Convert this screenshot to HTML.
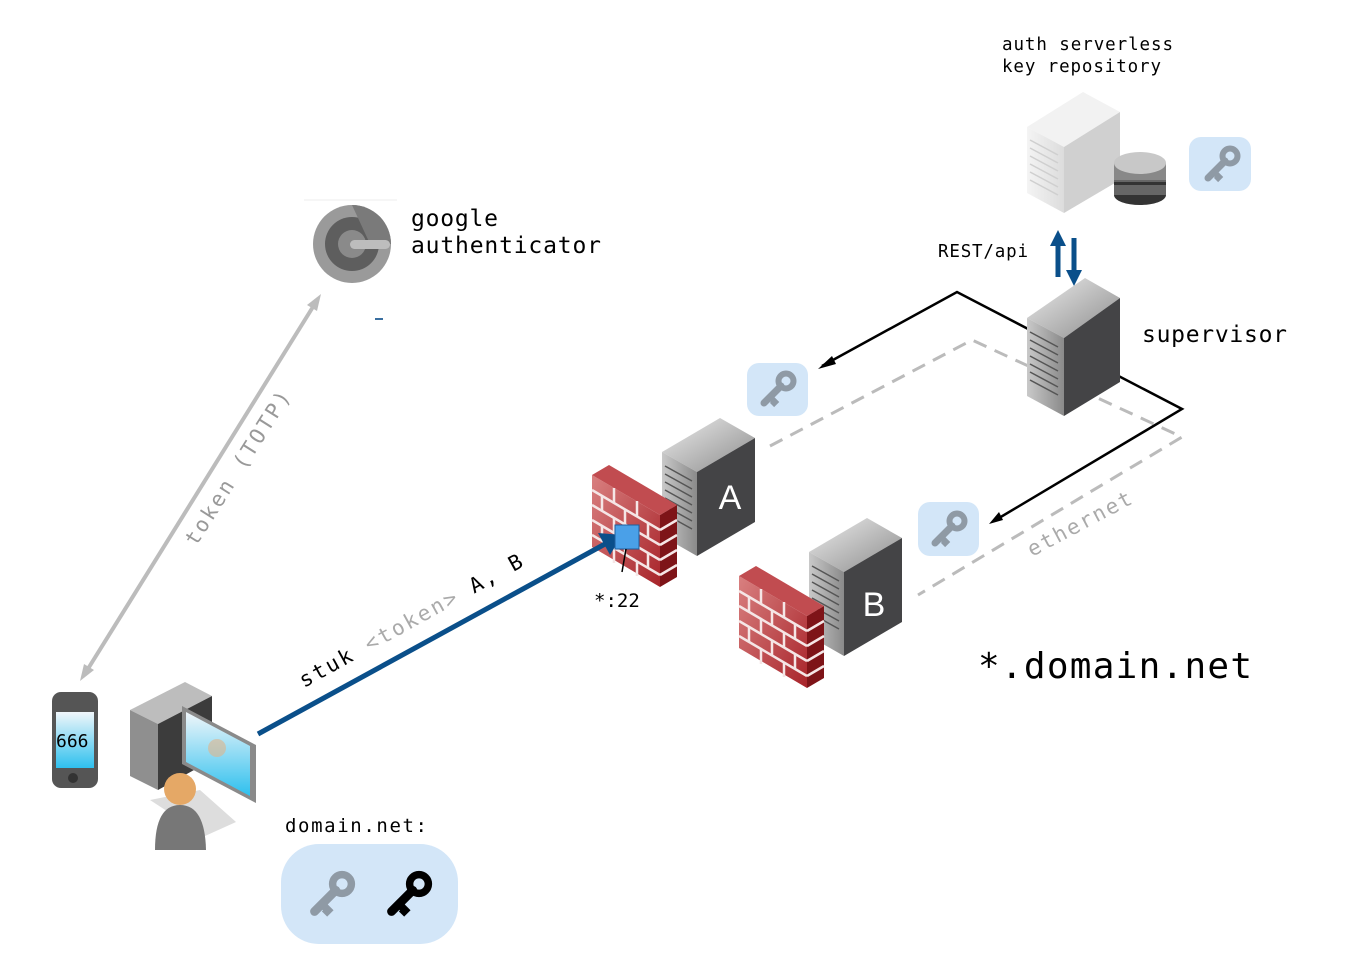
<!DOCTYPE html>
<html><head><meta charset="utf-8"><style>
html,body{margin:0;padding:0;background:#fff;}
svg{display:block;}
text{font-family:"DejaVu Sans Mono","Liberation Mono",monospace;}
</style></head><body>
<svg width="1364" height="958" viewBox="0 0 1364 958" xmlns="http://www.w3.org/2000/svg">
<defs>
<linearGradient id="lf" x1="0" y1="0" x2="1" y2="0"><stop offset="0" stop-color="#c9c9c9"/><stop offset="1" stop-color="#8a8a8a"/></linearGradient>
<linearGradient id="tf" x1="0" y1="0" x2="1" y2="1"><stop offset="0" stop-color="#ececec"/><stop offset="1" stop-color="#8c8c8c"/></linearGradient>
<linearGradient id="lfl" x1="0" y1="0" x2="1" y2="0"><stop offset="0" stop-color="#f4f4f4"/><stop offset="1" stop-color="#dcdcdc"/></linearGradient>
<linearGradient id="brick" x1="0" y1="0" x2="1" y2="1"><stop offset="0" stop-color="#d98080"/><stop offset="1" stop-color="#a8242a"/></linearGradient>
<linearGradient id="scr" x1="0" y1="0" x2="0" y2="1"><stop offset="0" stop-color="#f0f6fa"/><stop offset="1" stop-color="#2ec0ee"/></linearGradient>
<g id="key"><circle cx="8" cy="-8" r="7.5" fill="none" stroke="currentColor" stroke-width="6"/><path d="M3 -3 L-14 14" stroke="currentColor" stroke-width="7" stroke-linecap="round"/><path d="M-8 8 L-3 13 L-6 16" stroke="currentColor" stroke-width="6" fill="none"/></g>
<g id="wall">
 <polygon points="0,0 68,40 68,112 0,72" fill="url(#brick)"/>
 <polygon points="68,40 85,30 85,102 68,112" fill="#7e1418"/>
 <polygon points="0,0 17,-10 85,30 68,40" fill="#c14c50"/>
 <g stroke="#f5e6e6" stroke-width="2.5" fill="none">
  <path d="M0 15 L68 55 M0 30 L68 70 M0 45 L68 85 M0 60 L68 100"/>
  <path d="M68 55 L85 45 M68 70 L85 60 M68 85 L85 75 M68 100 L85 90"/>
  <path d="M22 13 L22 28 M45 26 L45 41 M10 21 L10 36 M33 34 L33 49 M56 48 L56 63 M22 43 L22 58 M45 56 L45 71 M10 51 L10 66 M33 64 L33 79 M56 78 L56 93 M22 73 L22 88 M45 86 L45 101"/>
 </g>
</g>
</defs>

<g fill="none" stroke="#bbb" stroke-width="3" stroke-dasharray="14,9">
 <path d="M770 446 L972 340 L1182 437 L918 595"/>
</g>
<path d="M822 366 L957 292 L1182 409 L994 521" fill="none" stroke="#000" stroke-width="2.5"/>
<polygon points="818,369 832,356 836,364" fill="#000"/>
<polygon points="989,524 999,512 1003,520" fill="#000"/>

<line x1="86" y1="672" x2="316" y2="302" stroke="#bcbcbc" stroke-width="4"/>
<polygon points="80,681 84,664 94,670" fill="#bcbcbc"/>
<polygon points="321,294 317,311 307,305" fill="#bcbcbc"/>

<line x1="1058" y1="244" x2="1058" y2="277" stroke="#0a4f8a" stroke-width="5"/>
<polygon points="1050,246 1066,246 1058,230" fill="#0a4f8a"/>
<line x1="1074" y1="238" x2="1074" y2="272" stroke="#0a4f8a" stroke-width="5"/>
<polygon points="1066,270 1082,270 1074,286" fill="#0a4f8a"/>

<g>
 <polygon points="1027,127 1083,92 1120,112 1064,147" fill="#f2f2f2"/>
 <polygon points="1027,127 1064,147 1064,213 1027,193" fill="url(#lfl)"/>
 <polygon points="1064,147 1120,112 1120,180 1064,213" fill="#d0d0d0"/>
 <g stroke="#cfcfcf" stroke-width="1.5"><path d="M1030 140 L1058 155 M1030 148 L1058 163 M1030 156 L1058 171 M1030 164 L1058 179 M1030 172 L1058 187 M1030 180 L1058 195"/></g>
 <ellipse cx="1140" cy="195" rx="26" ry="10" fill="#333"/>
 <rect x="1114" y="168" width="52" height="27" fill="#666"/>
 <rect x="1114" y="182" width="52" height="3" fill="#333"/>
 <rect x="1114" y="163" width="52" height="17" fill="#888"/>
 <ellipse cx="1140" cy="163" rx="26" ry="11" fill="#c8c8c8"/>
</g>
<rect x="1189" y="137" width="62" height="54" rx="12" fill="#d3e6f8"/>
<use href="#key" x="1222" y="164" color="#8f9aa5"/>

<g>
 <polygon points="1027,318 1085,278 1120,298 1064,338" fill="url(#tf)"/>
 <polygon points="1027,318 1064,338 1064,416 1027,396" fill="url(#lf)"/>
 <polygon points="1064,338 1120,298 1120,382 1064,416" fill="#444446"/>
 <g stroke="#555" stroke-width="1.5"><path d="M1030 332 L1058 347 M1030 340 L1058 355 M1030 348 L1058 363 M1030 356 L1058 371 M1030 364 L1058 379 M1030 372 L1058 387 M1030 380 L1058 395"/></g>
</g>

<g>
 <polygon points="662,452 720,418 755,438 697,472" fill="url(#tf)"/>
 <polygon points="662,452 697,472 697,556 662,536" fill="url(#lf)"/>
 <polygon points="697,472 755,438 755,522 697,556" fill="#444446"/>
 <g stroke="#555" stroke-width="1.5"><path d="M665 466 L692 481 M665 474 L692 489 M665 482 L692 497 M665 490 L692 505 M665 498 L692 513 M665 506 L692 521 M665 514 L692 529"/></g>
 <text x="730" y="509" font-size="34" fill="#fff" text-anchor="middle" style="font-family:'Liberation Sans',sans-serif">A</text>
</g>
<use href="#wall" x="592" y="475"/>
<line x1="258" y1="734" x2="605" y2="544" stroke="#0a4f8a" stroke-width="5"/>
<polygon points="622,535 598,533 610,555" fill="#0a4f8a"/>
<rect x="615" y="525" width="24" height="24" fill="#4aa0e8" stroke="#1d5f9e" stroke-width="1"/>
<line x1="626" y1="549" x2="622" y2="572" stroke="#000" stroke-width="1.5"/>
<text x="594" y="607" font-size="19">*:22</text>

<g>
 <polygon points="809,552 867,518 902,538 844,572" fill="url(#tf)"/>
 <polygon points="809,552 844,572 844,656 809,636" fill="url(#lf)"/>
 <polygon points="844,572 902,538 902,622 844,656" fill="#444446"/>
 <g stroke="#555" stroke-width="1.5"><path d="M812 566 L839 581 M812 574 L839 589 M812 582 L839 597 M812 590 L839 605 M812 598 L839 613 M812 606 L839 621 M812 614 L839 629"/></g>
 <text x="874" y="616" font-size="34" fill="#fff" text-anchor="middle" style="font-family:'Liberation Sans',sans-serif">B</text>
</g>
<use href="#wall" x="739" y="576"/>

<rect x="747" y="363" width="61" height="53" rx="12" fill="#d3e6f8"/>
<use href="#key" x="778" y="389" color="#8f9aa5"/>
<rect x="918" y="502" width="61" height="54" rx="12" fill="#d3e6f8"/>
<use href="#key" x="949" y="529" color="#8f9aa5"/>
<rect x="281" y="844" width="177" height="100" rx="38" fill="#d3e6f8"/>
<use href="#key" transform="translate(332,894) scale(1.25)" color="#8f9aa5"/>
<use href="#key" transform="translate(409,894) scale(1.25)" color="#000"/>

<line x1="304" y1="200" x2="397" y2="200" stroke="#eee" stroke-width="1"/>
<circle cx="352" cy="244" r="39" fill="#9a9a9a"/>
<circle cx="352" cy="244" r="27" fill="#5e5e5e"/>
<circle cx="352" cy="244" r="14" fill="#8a8a8a"/>
<path d="M352 205 A39 39 0 0 1 391 244 L370 244 Z" fill="#7a7a7a"/>
<rect x="350" y="240" width="40" height="9" rx="4.5" fill="#bdbdbd"/>
<text x="411" y="226" font-size="23" textLength="87">google</text>
<text x="411" y="253" font-size="23" textLength="190">authenticator</text>
<line x1="375" y1="319" x2="383" y2="319" stroke="#3a6fa0" stroke-width="2"/>

<text x="1002" y="50" font-size="17.5" textLength="171">auth serverless</text>
<text x="1002" y="72" font-size="17.5" textLength="159">key repository</text>
<text x="938" y="257" font-size="17.5" textLength="90">REST/api</text>
<text x="1142" y="342" font-size="23" textLength="145">supervisor</text>
<text x="978" y="678" font-size="36" textLength="274">*.domain.net</text>
<text x="285" y="832" font-size="19" textLength="142">domain.net:</text>
<text transform="translate(1032,557) rotate(-28)" font-size="21" fill="#aaa" textLength="115">ethernet</text>
<text transform="translate(196,547) rotate(-57.7)" font-size="21" fill="#999" textLength="178">token (TOTP)</text>
<text transform="translate(304,688) rotate(-29)" font-size="21" textLength="252"><tspan>stuk </tspan><tspan fill="#aaa">&lt;token&gt;</tspan><tspan> A, B</tspan></text>

<rect x="52" y="692" width="46" height="96" rx="9" fill="#555"/>
<rect x="56" y="712" width="38" height="56" fill="url(#scr)"/>
<circle cx="73" cy="778" r="5" fill="#333"/>
<text x="56" y="747" font-size="18">666</text>

<polygon points="130,710 185,682 212,696 158,724" fill="#bdbdbd"/>
<polygon points="130,710 158,724 158,790 130,776" fill="#8f8f8f"/>
<polygon points="158,724 212,696 212,760 158,790" fill="#3c3c3c"/>
<polygon points="182,706 256,745 256,803 182,764" fill="#8a8a8a"/>
<polygon points="186,712 250,746 250,796 186,762" fill="url(#scr)"/>
<circle cx="217" cy="748" r="9" fill="#e0b48a" opacity="0.6"/>
<polygon points="150,800 200,790 236,822 205,836" fill="#ddd"/>
<path d="M155 850 Q155 805 180 805 Q205 805 206 850 Z" fill="#777"/>
<circle cx="180" cy="789" r="16" fill="#e5a866"/>
</svg>
</body></html>
